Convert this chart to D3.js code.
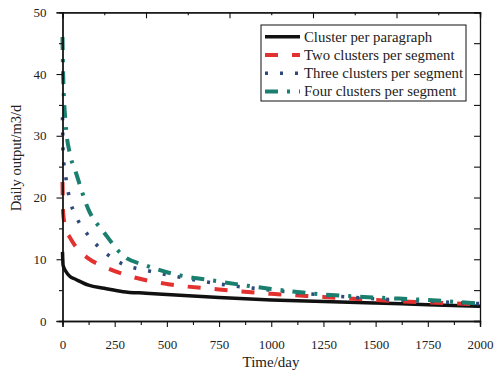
<html>
<head>
<meta charset="utf-8">
<style>
  body { margin: 0; background: #fff; }
  text { font-family: "Liberation Serif", "DejaVu Serif", serif; fill: #222; }
</style>
</head>
<body>
<script src="https://cdn.jsdelivr.net/npm/d3@7/dist/d3.min.js"></script>
<script>
// days sampled along each curve
var days = [0, 3, 15, 36, 60, 125, 200, 290, 400, 500, 750, 1000, 1250, 1500, 1750, 2000];
var onePerPara   = [11.2, 9.0, 8.1, 7.2, 6.8, 5.8, 5.3, 4.75, 4.5, 4.3, 3.8, 3.4, 3.15, 2.9, 2.65, 2.4];
var twoPerSeg    = [22.5, 17.5, 15.0, 13.5, 12.2, 10.1, 8.8, 7.6, 6.6, 6.0, 5.1, 4.4, 3.9, 3.4, 3.0, 2.7];
var threePerSeg  = [33, 27, 23.5, 19.5, 17.3, 13.8, 11.2, 9.2, 8.2, 7.5, 6.0, 5.0, 4.2, 3.6, 3.2, 2.8];
var fourPerSeg   = [46, 40, 32, 27, 24.5, 18, 14.3, 10.6, 9.0, 7.9, 6.4, 5.2, 4.3, 3.8, 3.4, 2.8];
var seriesNames  = ["Cluster per paragraph", "Two clusters per segment", "Three clusters per segment", "Four clusters per segment"];
var xTicks = [0, 250, 500, 750, 1000, 1250, 1500, 1750, 2000];
var yTicks = [0, 10, 20, 30, 40, 50];

var series = [onePerPara, twoPerSeg, threePerSeg, fourPerSeg];
var colors = ["#111111", "#e2312f", "#2e4a7d", "#1b7f6f"];
var dashes = [null, "13,14", "3,12", "13,9,3,9"];
var widths = [3.5, 4, 3.6, 4];

var width = 498, height = 381;
var mLeft = 62.5, mRight = 480, mTop = 12.3, mBottom = 321;

var svg = d3.select("body").append("svg")
    .attr("width", width)
    .attr("height", height);

var x = d3.scaleLinear().domain([0, 2000]).range([mLeft, mRight]);
var y = d3.scaleLinear().domain([0, 50]).range([mBottom, mTop]);

// curves
var line = d3.line()
    .x(function (d) { return x(d[0]); })
    .y(function (d) { return y(d[1]); })
    .curve(d3.curveMonotoneX);

series.forEach(function (vals, i) {
    svg.append("path")
        .datum(days.map(function (t, j) { return [t, vals[j]]; }))
        .attr("fill", "none")
        .attr("stroke", colors[i])
        .attr("stroke-width", widths[i])
        .attr("stroke-dasharray", dashes[i])
        .attr("d", line);
});

// axes
svg.append("g")
    .attr("transform", "translate(0," + mBottom + ")")
    .call(d3.axisBottom(x).tickValues(xTicks).tickSize(6).tickPadding(13).tickFormat(d3.format("d")));
svg.append("g")
    .attr("transform", "translate(0," + mBottom + ")")
    .call(d3.axisBottom(x).tickValues(d3.range(125, 2000, 250)).tickSize(4).tickFormat(""));

svg.append("g")
    .attr("transform", "translate(" + mLeft + ",0)")
    .call(d3.axisLeft(y).tickValues(yTicks).tickSize(6).tickPadding(10));
svg.append("g")
    .attr("transform", "translate(" + mLeft + ",0)")
    .call(d3.axisLeft(y).tickValues(d3.range(5, 50, 10)).tickSize(3.5).tickFormat(""));

// top and right frame with inward ticks
svg.append("g")
    .attr("transform", "translate(0," + mTop + ")")
    .call(d3.axisTop(x).tickValues(d3.range(0, 2001, 400)).tickSize(-6).tickFormat(""));
svg.append("g")
    .attr("transform", "translate(0," + mTop + ")")
    .call(d3.axisTop(x).tickValues(d3.range(200, 2000, 400)).tickSize(-3).tickFormat(""));
svg.append("g")
    .attr("transform", "translate(" + mRight + ",0)")
    .call(d3.axisRight(y).tickValues(d3.range(0, 51, 5)).tickSize(-6).tickFormat(""));

svg.selectAll(".domain").attr("stroke", "#111").attr("stroke-width", 1.3);
svg.selectAll(".tick line").attr("stroke", "#111").attr("stroke-width", 1.1);
svg.selectAll(".tick text")
    .style("font-family", "Liberation Serif")
    .style("font-size", "13px")
    .attr("fill", "#222");

// axis titles
svg.append("text")
    .attr("x", 271)
    .attr("y", 367)
    .attr("text-anchor", "middle")
    .style("font-size", "15px")
    .text("Time/day");

svg.append("text")
    .attr("transform", "translate(21,158) rotate(-90)")
    .attr("text-anchor", "middle")
    .style("font-size", "14.5px")
    .text("Daily output/m3/d");

// legend
var legend = svg.append("g");
legend.append("rect")
    .attr("x", 261).attr("y", 25)
    .attr("width", 205).attr("height", 76)
    .attr("fill", "#fff")
    .attr("stroke", "#111")
    .attr("stroke-width", 1);

seriesNames.forEach(function (name, i) {
    var ly = 36.7 + i * 18.3;
    legend.append("line")
        .attr("x1", 265).attr("x2", 300)
        .attr("y1", ly).attr("y2", ly)
        .attr("stroke", colors[i])
        .attr("stroke-width", widths[i])
        .attr("stroke-dasharray", dashes[i]);
    legend.append("text")
        .attr("x", 304)
        .attr("y", ly + 4.8)
        .style("font-size", "14.8px")
        .text(name);
});
</script>
</body>
</html>
